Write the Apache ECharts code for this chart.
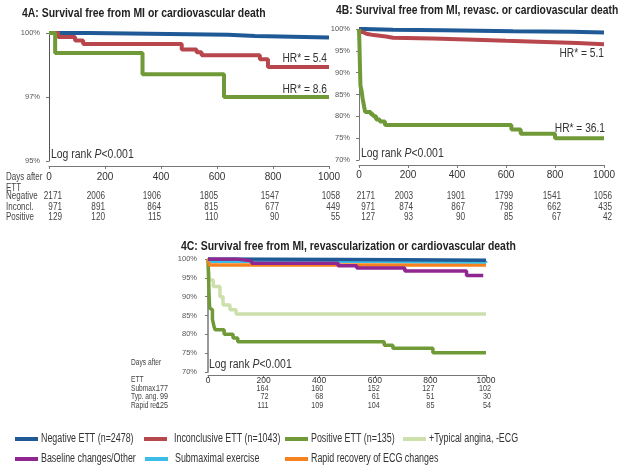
<!DOCTYPE html>
<html>
<head>
<meta charset="utf-8">
<script src="https://cdn.jsdelivr.net/npm/echarts@6/dist/echarts.min.js"></script>
<style>
html, body { margin: 0; padding: 0; background: #fff; }
#main { width: 629px; height: 474px; }
</style>
</head>
<body>
<div id="main"></div>
<script>
// Kaplan-Meier curves, [day, survival %]
var A_negative = [[0, 100], [146, 99.93], [640, 99.88], [736, 99.82], [1000, 99.82]];
var A_inconcl = [[0, 100], [33, 99.84], [93, 99.71], [122, 99.57], [474, 99.36], [527, 99.25], [545, 99.13], [753, 98.97], [782, 98.67], [1000, 98.67]];
var A_positive = [[0, 100], [22, 99.22], [334, 98.39], [625, 97.5], [1000, 97.5]];

var B_negative = [[0, 100], [20, 99.85], [139, 99.7], [343, 99.5], [629, 99.35], [869, 99.2], [1000, 99.2]];
var B_inconcl = [[0, 100], [5, 99.3], [15, 98.9], [30, 98.6], [60, 98.3], [110, 98.0], [139, 97.8], [300, 97.6], [440, 97.3], [600, 97.1], [727, 96.8], [890, 96.5], [1000, 96.5]];
var B_positive = [[0, 100], [2, 96], [4, 91], [6, 87], [10, 86], [15, 84], [20, 82.5], [25, 81], [48, 80.5], [58, 80], [70, 79.3], [85, 78.8], [106, 78], [622, 77], [660, 76], [800, 75], [1000, 75]];

var C_negative = [[0, 100], [150, 99.9], [540, 99.7], [1000, 99.6]];
var C_submax = [[0, 100], [10, 99.4], [600, 99.2], [1000, 99.0]];
var C_rapid = [[0, 100], [5, 98.4], [1000, 98.4]];
var C_typical = [[0, 100], [3, 96], [6, 94.4], [19, 92.7], [43, 90], [54, 87.8], [79, 86.5], [101, 85.4], [1000, 85.4]];
var C_positive = [[0, 100], [2, 95], [4, 90], [6, 87], [10, 86.5], [16, 84], [22, 82], [26, 81.2], [58, 80], [90, 79], [107, 78], [634, 77.1], [665, 76.3], [809, 75.1], [1000, 75.1]];
var C_baseline = [[0, 100], [103, 99.5], [157, 98.9], [468, 98.2], [535, 97.6], [708, 96.8], [930, 95.6], [990, 95.6]];

// numbers at risk
var riskDays = [0, 200, 400, 600, 800, 1000];
var riskA_neg = [2171, 2006, 1906, 1805, 1547, 1058];
var riskA_inc = [971, 891, 864, 815, 677, 449];
var riskA_pos = [129, 120, 115, 110, 90, 55];
var riskB_neg = [2171, 2003, 1901, 1799, 1541, 1056];
var riskB_inc = [971, 874, 867, 798, 662, 435];
var riskB_pos = [127, 93, 90, 85, 67, 42];
var riskC_sub = [177, 164, 160, 152, 127, 102];
var riskC_typ = [99, 72, 68, 61, 51, 30];
var riskC_rap = [125, 111, 109, 104, 85, 54];

var names = {
  neg: 'Negative ETT (n=2478)',
  inc: 'Inconclusive ETT (n=1043)',
  pos: 'Positive ETT (n=135)',
  typ: '+Typical angina, -ECG',
  base: 'Baseline changes/Other',
  sub: 'Submaximal exercise',
  rap: 'Rapid recovery of ECG changes'
};
var colors = {
  neg: '#1f5a96', inc: '#b8474d', pos: '#6f9a37', typ: '#cde0ac',
  base: '#902790', sub: '#3cbde8', rap: '#f5821f'
};

var FF = "'Liberation Sans', Arial, sans-serif";

var myChart = echarts.init(document.getElementById('main'));

function km(key, data, idx, width) {
  return {
    type: 'line', name: names[key], data: data, step: 'end',
    xAxisIndex: idx, yAxisIndex: idx,
    symbol: 'none', showSymbol: false,
    lineStyle: { color: colors[key], width: width },
    itemStyle: { color: colors[key] },
    emphasis: { disabled: true }
  };
}

function xAx(gi, offset, margin, size) {
  return {
    type: 'value', gridIndex: gi, min: 0, max: 1000, interval: 200, offset: offset,
    axisLine: { show: true, lineStyle: { color: '#777', width: 1 } },
    axisTick: { show: true, length: 3, lineStyle: { color: '#777' } },
    axisLabel: {
      color: '#333', fontSize: size, fontFamily: FF, margin: margin,
      formatter: function (v) { return String(v); }
    },
    splitLine: { show: false }
  };
}

function yAx(gi, min, interval, offset, lineColor, lineWidth) {
  return {
    type: 'value', gridIndex: gi, min: min, max: 100, interval: interval, offset: offset,
    axisLine: { show: true, lineStyle: { color: lineColor, width: lineWidth } },
    axisTick: { show: true, length: 3, lineStyle: { color: '#777' } },
    axisLabel: {
      color: '#555', fontSize: 7.5, fontFamily: FF, margin: 3,
      formatter: function (v) { return Math.floor(v) + '%'; }
    },
    splitLine: { show: false }
  };
}

myChart.setOption({
  animation: false,
  grid: [
    { left: 49, right: 300, top: 33, bottom: 313 },
    { left: 359, right: 25, top: 29, bottom: 314 },
    { left: 208, right: 143, top: 259, bottom: 102 }
  ],
  xAxis: [xAx(0, 5, 6, 10), xAx(1, 5, 5, 10), xAx(2, 3, 1, 8.5)],
  yAxis: [
    yAx(0, 95, 2.5, 6, '#555', 1),
    yAx(1, 70, 5, 6, '#777', 1),
    yAx(2, 70, 5, 8, '#999', 2)
  ],
  series: [
    km('neg', A_negative, 0, 4),
    km('inc', A_inconcl, 0, 4),
    km('pos', A_positive, 0, 4),
    km('neg', B_negative, 1, 4),
    km('inc', B_inconcl, 1, 4),
    km('pos', B_positive, 1, 4),
    km('typ', C_typical, 2, 3.5),
    km('pos', C_positive, 2, 3.5),
    km('rap', C_rapid, 2, 3.5),
    km('sub', C_submax, 2, 3.5),
    km('neg', C_negative, 2, 3.5),
    km('base', C_baseline, 2, 3.5)
  ]
});

// texts: titles, annotations, legend and the numbers-at-risk tables
// (the source figure uses a narrow face, so text is squeezed with scaleX)
var g = [];
function txt(s, x, y, size, opts) {
  opts = opts || {};
  var fill = opts.color || '#333';
  g.push({
    type: 'text', x: x, y: y, scaleX: opts.sx || 0.8, silent: true,
    style: {
      text: s, fontSize: size, fontFamily: FF,
      fontWeight: opts.bold ? 'bold' : 'normal',
      fill: fill,
      align: opts.align || 'left', verticalAlign: 'middle',
      rich: { i: { fontStyle: 'italic', fontSize: size, fontFamily: FF, fill: fill } }
    }
  });
}

txt('4A: Survival free from MI or cardiovascular death', 22, 14, 12, { bold: true, color: '#222', sx: 0.87 });
txt('4B: Survival free from MI, revasc. or cardiovascular death', 336, 11, 12, { bold: true, color: '#222', sx: 0.86 });
txt('4C: Survival free from MI, revascularization or cardiovascular death', 181, 247, 12, { bold: true, color: '#222', sx: 0.87 });

txt('Log rank {i|P}<0.001', 51, 155, 12, { sx: 0.87 });
txt('Log rank {i|P}<0.001', 361, 154, 12, { sx: 0.87 });
txt('Log rank {i|P}<0.001', 209, 365, 12, { sx: 0.87 });

txt('HR* = 5.4', 327, 59, 12, { align: 'right', sx: 0.85 });
txt('HR* = 8.6', 327, 90, 12, { align: 'right', sx: 0.85 });
txt('HR* = 5.1', 604, 54, 12, { align: 'right', sx: 0.85 });
txt('HR* = 36.1', 605, 129, 12, { align: 'right', sx: 0.85 });

function table(idx, rows, ys, shifts, size, sx) {
  for (var r = 0; r < rows.length; r++) {
    for (var i = 0; i < riskDays.length; i++) {
      var px = myChart.convertToPixel({ xAxisIndex: idx }, riskDays[i]);
      txt(String(rows[r][i]), px + shifts[i], ys[r], size, { align: 'right', color: '#444', sx: sx });
    }
  }
}

var ta = { color: '#444', sx: 0.8 };
txt('Days after', 6, 177, 10, ta);
txt('ETT', 6, 188, 10, ta);
txt('Negative', 6, 196.5, 10, ta);
txt('Inconcl.', 6, 207, 10, ta);
txt('Positive', 6, 217.5, 10, ta);
table(0, [riskA_neg, riskA_inc, riskA_pos], [196.5, 207, 217.5], [13, 0, 0, 1, 6, 11], 10, 0.82);
table(1, [riskB_neg, riskB_inc, riskB_pos], [196.5, 207, 217.5], [16, 5, 8, 7, 6, 8], 10, 0.82);

var tc = { color: '#444', sx: 0.78 };
txt('Days after', 131, 363, 8.5, tc);
txt('ETT', 131, 380, 8.5, tc);
txt('Submax.', 131, 388.5, 8.5, tc);
txt('Typ. ang.', 131, 397, 8.5, tc);
txt('Rapid rec.', 131, 405.5, 8.5, tc);
table(2, [riskC_sub, riskC_typ, riskC_rap], [388.5, 397, 405.5], [-40, 5, 4, 5, 4, 5], 8.5, 0.85);

// legend
var legendItems = [
  ['neg', 15, 439], ['inc', 144, 439], ['pos', 285, 439], ['typ', 403, 439],
  ['base', 15, 459], ['sub', 145, 459], ['rap', 285, 459]
];
legendItems.forEach(function (it) {
  g.push({
    type: 'rect', silent: true,
    shape: { x: it[1], y: it[2] - 2, width: 23, height: 4 },
    style: { fill: colors[it[0]] }
  });
  txt(names[it[0]], it[1] + (it[0] === 'inc' || it[0] === 'sub' ? 30 : 26), it[2], 12, { sx: 0.74 });
});

myChart.setOption({ graphic: g });
</script>
</body>
</html>
